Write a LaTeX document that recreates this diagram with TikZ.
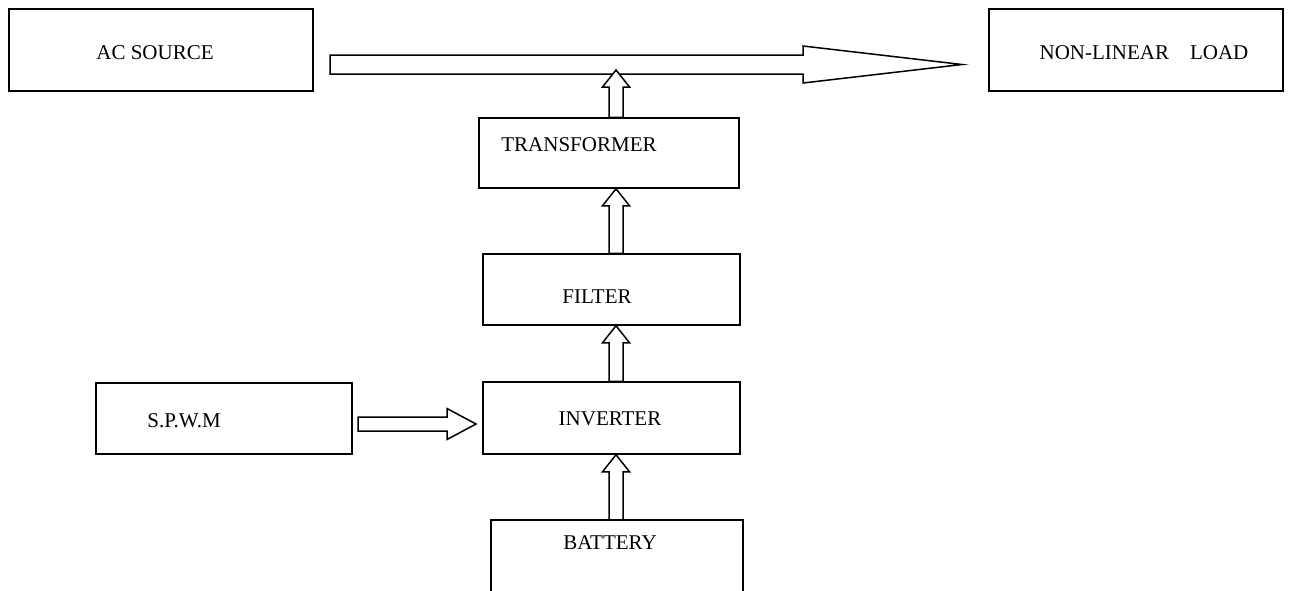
\documentclass[tikz,border=0pt]{standalone}
\usepackage{fontspec}
\setmainfont{Liberation Serif}
\usetikzlibrary{calc}
\newcommand\vuparrow[3]{% #1 bottom point, #2 tip point, #3 x centre (pt)
  \draw[hollow] let \p1=(#1), \p2=(#2) in
    (#3pt-7pt,\y1) -- (#3pt-7pt,\y2-17pt) -- (#3pt-13.5pt,\y2-17pt) -- (#3pt,\y2)
    -- (#3pt+13.5pt,\y2-17pt) -- (#3pt+7pt,\y2-17pt) -- (#3pt+7pt,\y1) -- cycle;}
\begin{document}
\begin{tikzpicture}[x=1pt,y=-1pt,
  box/.style={draw,line width=1.5pt,inner sep=0pt},
  lbl/.style={inner sep=0pt,font=\fontsize{21}{25}\selectfont},
  hollow/.style={draw,fill=white,line width=1.5pt,line join=miter}]
\useasboundingbox (0,0) rectangle (1289,590);
% boxes
\node[box,minimum width=304pt,minimum height=82pt] (ac) at (161,50) {};
\node[box,minimum width=294pt,minimum height=82pt] (load) at (1136,50) {};
\node[box,minimum width=260pt,minimum height=70pt] (tf) at (609,153) {};
\node[box,minimum width=257pt,minimum height=71pt] (fil) at (611.5,289.5) {};
\node[box,minimum width=257pt,minimum height=72pt] (inv) at (611.5,418) {};
\node[box,minimum width=256pt,minimum height=71pt] (spwm) at (224,418.5) {};
\node[inner sep=0pt,minimum width=252pt,minimum height=80pt] (bat) at (617,560) {};
\draw[line width=1.5pt] (bat.south west) -- (bat.north west) -- (bat.north east) -- (bat.south east);
% labels
\node[lbl] (acT) at (155,52.5) {AC SOURCE};
\node[lbl] (loadT) at (1144,52.5) {NON-LINEAR\ \ \ \ LOAD};
\node[lbl] (tfT) at (579,145) {TRANSFORMER};
\node[lbl] (filT) at (597,297) {FILTER};
\node[lbl] (invT) at (610,419) {INVERTER};
\node[lbl] (spwmT) at (184,421) {S.P.W.M};
\node[lbl] (batT) at (610,543) {BATTERY};
% main arrow
\coordinate (ms) at (330,64.5);
\coordinate (mt) at (962,64.5);
\draw[hollow] let \p1=(ms), \p2=(mt) in
  (\x1,\y1+9.5pt) -- (\x2-159pt,\y1+9.5pt) -- (\x2-159pt,\y1+18.5pt) -- (\x2,\y2)
  -- (\x2-159pt,\y1-18.5pt) -- (\x2-159pt,\y1-9.5pt) -- (\x1,\y1-9.5pt) -- cycle;
% S.P.W.M -> inverter
\coordinate (ss) at (358,424);
\coordinate (st) at (476,424);
\draw[hollow] let \p1=(ss), \p2=(st) in
  (\x1,\y1+7pt) -- (\x2-29pt,\y1+7pt) -- (\x2-29pt,\y1+15.5pt) -- (\x2,\y2)
  -- (\x2-29pt,\y1-15.5pt) -- (\x2-29pt,\y1-7pt) -- (\x1,\y1-7pt) -- cycle;
% vertical arrows
\coordinate (jn) at (616,70);
\vuparrow{tf.north}{jn}{616}
\vuparrow{fil.north}{tf.south}{616}
\vuparrow{inv.north}{fil.south}{616}
\vuparrow{bat.north}{inv.south}{616}
\end{tikzpicture}
\end{document}
